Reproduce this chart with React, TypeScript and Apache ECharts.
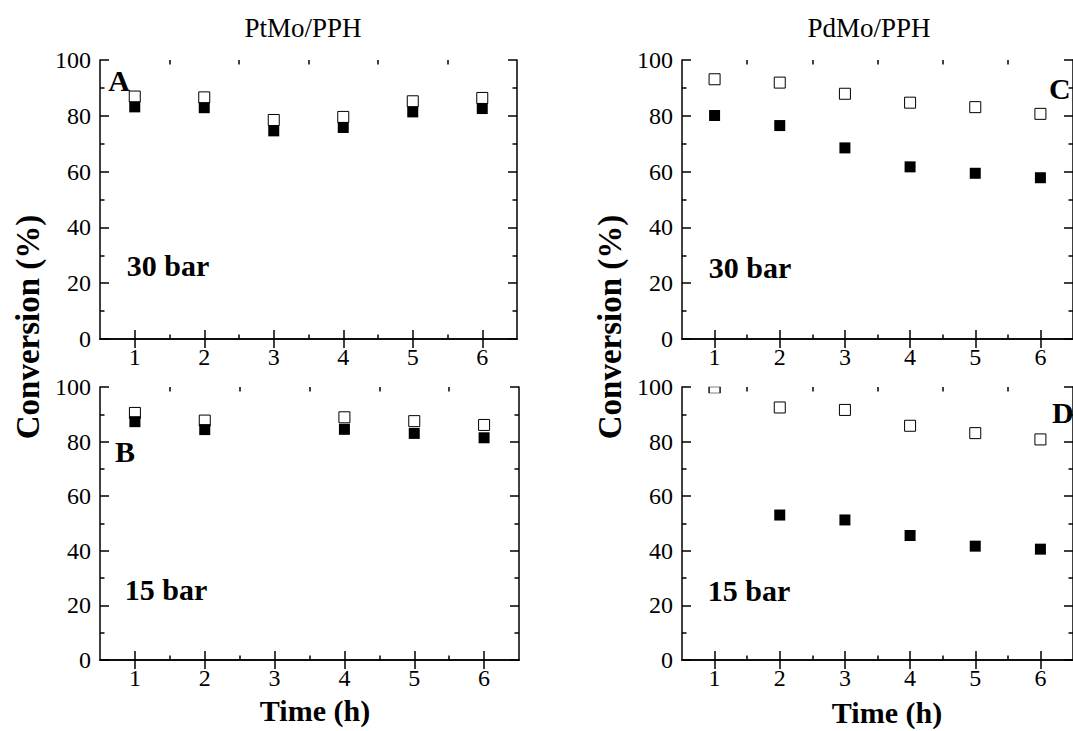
import React, { useEffect, useRef } from "react";
import * as echarts from "echarts";

// ---- data ----
const hours = [1, 2, 3, 4, 5, 6];
const halfHours = [1.5, 2.5, 3.5, 4.5, 5.5];
const yMin = 0;
const yMax = 100;
const yStep = 20;

// PtMo/PPH, 30 bar (A)
const ptMo30Open = [86.9, 86.6, 78.5, 79.6, 85.2, 86.4];
const ptMo30Filled = [83.2, 82.9, 74.6, 75.8, 81.4, 82.6];
// PtMo/PPH, 15 bar (B)
const ptMo15Open = [90.5, 87.7, null, 88.9, 87.5, 86.1];
const ptMo15Filled = [87.3, 84.4, null, 84.5, 83.0, 81.4];
// PdMo/PPH, 30 bar (C)
const pdMo30Open = [93.1, 91.9, 87.9, 84.7, 83.1, 80.7];
const pdMo30Filled = [80.1, 76.5, 68.5, 61.7, 59.4, 57.8];
// PdMo/PPH, 15 bar (D)
const pdMo15Open = [100, 92.5, 91.6, 85.8, 83.1, 80.8];
const pdMo15Filled = [null, 53.1, 51.3, 45.6, 41.7, 40.6];

const FONT = "'Liberation Serif', 'Times New Roman', serif";

export default function App() {
  const ref = useRef<HTMLDivElement>(null);

  useEffect(() => {
    document.body.style.margin = "0";
    const chart = echarts.init(ref.current!, null, { renderer: "svg" });

    const panels = [
      { rect: { left: 100, top: 60, width: 417, height: 279 }, open: ptMo30Open, filled: ptMo30Filled },
      { rect: { left: 100, top: 387, width: 419, height: 273 }, open: ptMo15Open, filled: ptMo15Filled },
      { rect: { left: 682, top: 60, width: 398, height: 279 }, open: pdMo30Open, filled: pdMo30Filled },
      { rect: { left: 682, top: 387, width: 402, height: 273 }, open: pdMo15Open, filled: pdMo15Filled },
    ];

    const line = { show: true, lineStyle: { color: "#000", width: 1.5 } };
    const grids: any[] = [];
    const xAxes: any[] = [];
    const yAxes: any[] = [];
    const series: any[] = [];

    const toData = (vals: (number | null)[]) =>
      hours
        .map((h, i) => ({ h, v: vals[i] }))
        .filter((d) => d.v != null)
        .map((d) =>
          d.v! >= yMax
            ? { value: [d.h, d.v], symbolSize: [11, 6], symbolOffset: [0, 3] }
            : { value: [d.h, d.v] }
        );

    panels.forEach((p) => {
      // main grid
      const g = grids.length;
      grids.push({ ...p.rect, containLabel: false });
      const xb = xAxes.length;
      xAxes.push({
        type: "value", gridIndex: g, position: "bottom", min: 0.5, max: 6.5,
        axisLine: line,
        axisTick: { show: true, inside: true, length: 9, customValues: hours, lineStyle: { color: "#000", width: 1.5 } },
        axisLabel: { show: true, customValues: hours, margin: 6, color: "#000", fontSize: 24, fontFamily: FONT },
        splitLine: { show: false },
      });
      xAxes.push({
        type: "value", gridIndex: g, position: "top", min: 0.5, max: 6.5,
        axisLine: line,
        axisTick: { show: true, inside: true, length: 9, customValues: hours, lineStyle: { color: "#000", width: 1.5 } },
        axisLabel: { show: false },
        splitLine: { show: false },
      });
      const yl = yAxes.length;
      yAxes.push({
        type: "value", gridIndex: g, position: "left", min: yMin, max: yMax, interval: yStep,
        axisLine: line,
        axisTick: { show: true, inside: true, length: 9, lineStyle: { color: "#000", width: 1.5 } },
        minorTick: { show: true, splitNumber: 2, length: 4.5, lineStyle: { color: "#000", width: 1.5 } },
        axisLabel: { show: true, margin: 9, color: "#000", fontSize: 24, fontFamily: FONT },
        splitLine: { show: false },
      });
      yAxes.push({
        type: "value", gridIndex: g, position: "right", min: yMin, max: yMax, interval: yStep,
        axisLine: line,
        axisTick: { show: true, inside: true, length: 9, lineStyle: { color: "#000", width: 1.5 } },
        minorTick: { show: true, splitNumber: 2, length: 4.5, lineStyle: { color: "#000", width: 1.5 } },
        axisLabel: { show: false },
        splitLine: { show: false },
      });
      // overlay grid for x minor ticks
      const g2 = grids.length;
      grids.push({ ...p.rect, containLabel: false });
      ["bottom", "top"].forEach((pos) =>
        xAxes.push({
          type: "value", gridIndex: g2, position: pos, min: 0.5, max: 6.5,
          axisLine: { show: false },
          axisTick: { show: true, inside: true, length: 4.5, customValues: halfHours, lineStyle: { color: "#000", width: 1.5 } },
          axisLabel: { show: false },
          splitLine: { show: false },
        })
      );
      yAxes.push({ type: "value", gridIndex: g2, min: yMin, max: yMax, show: false });

      series.push({
        type: "scatter", xAxisIndex: xb, yAxisIndex: yl, symbol: "rect", symbolSize: 11, clip: false,
        itemStyle: { color: "#fff", borderColor: "#000", borderWidth: 1, opacity: 1 },
        data: toData(p.open),
        z: 3,
      });
      series.push({
        type: "scatter", xAxisIndex: xb, yAxisIndex: yl, symbol: "rect", symbolSize: 11, clip: false,
        itemStyle: { color: "#000", opacity: 1 },
        data: toData(p.filled),
        z: 4,
      });
    });

    const txt = (text: string, x: number, y: number, size: number, bold: boolean, align = "center", rotation = 0) => ({
      type: "text", x, y, rotation,
      style: {
        text, fill: "#000", font: `${bold ? "bold " : ""}${size}px ${FONT}`,
        align, verticalAlign: "middle",
      },
    });

    const option: any = {
      animation: false,
      backgroundColor: "#fff",
      grid: grids,
      xAxis: xAxes,
      yAxis: yAxes,
      series,
      graphic: [
        txt("PtMo/PPH", 303, 28, 27, false),
        txt("PdMo/PPH", 869, 28, 27, false),
        txt("Conversion (%)", 28, 327, 33, true, "center", Math.PI / 2),
        txt("Conversion (%)", 610, 327, 33, true, "center", Math.PI / 2),
        txt("Time (h)", 315, 710, 30, true),
        txt("Time (h)", 887, 712, 30, true),
        txt("A", 119, 80, 30, true),
        txt("B", 125, 451, 30, true),
        txt("C", 1049, 88, 30, true, "left"),
        txt("D", 1052, 412, 30, true, "left"),
        txt("30 bar", 168, 265, 30, true),
        txt("15 bar", 166, 589, 30, true),
        txt("30 bar", 750, 267, 30, true),
        txt("15 bar", 749, 590, 30, true),
      ],
    };

    chart.setOption(option);
    return () => chart.dispose();
  }, []);

  return <div ref={ref} style={{ width: 1073, height: 731 }} />;
}
